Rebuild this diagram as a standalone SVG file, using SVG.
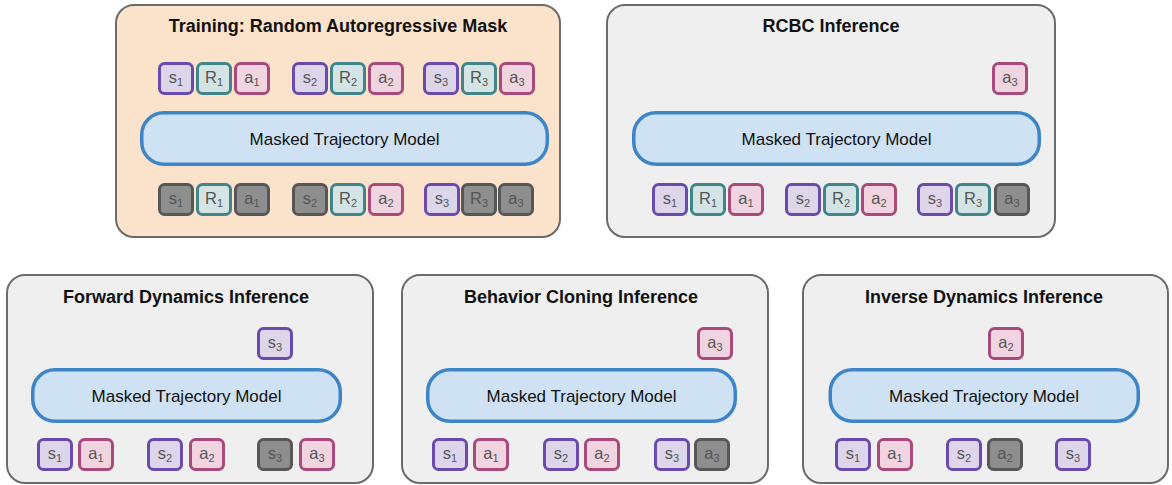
<svg xmlns="http://www.w3.org/2000/svg" width="1172" height="485" viewBox="0 0 1172 485">
<style>
.panel{fill:#efefef;stroke:#6b6b6b;stroke-width:2}
.peach{fill:#fbe3cb}
.title{font-family:"Liberation Sans",Arial,sans-serif;font-weight:bold;font-size:18px;fill:#111;text-anchor:middle}
.mtm{fill:#cfe2f3;stroke:#3d85c6;stroke-width:3.5}
.mtmt{font-family:"Liberation Sans",Arial,sans-serif;font-size:17px;fill:#111;text-anchor:middle}
.tk{stroke-width:3}
.s{fill:#ddd6ea;stroke:#6a4bad}
.r{fill:#d4e4e4;stroke:#3f858a}
.a{fill:#f0d4df;stroke:#a84a7b}
.g{fill:#8e8e8e;stroke:#575757}
.tt{font-family:"Liberation Sans",Arial,sans-serif;font-size:16.5px;fill:#555;text-anchor:middle}
.sub{font-size:11px}
</style>
<defs>
<rect id="box" x="1.5" y="1.5" width="33" height="30" rx="5"/>
</defs>

<g id="panel-training">
<rect class="panel peach" x="116" y="5" width="444" height="232" rx="18"/>
<text class="title" x="338" y="32">Training: Random Autoregressive Mask</text>
<g transform="translate(158,62)"><use href="#box" class="tk s"/><text class="tt" x="18" y="21">s<tspan class="sub" dy="3">1</tspan></text></g>
<g transform="translate(196,62)"><use href="#box" class="tk r"/><text class="tt" x="18" y="21">R<tspan class="sub" dy="3">1</tspan></text></g>
<g transform="translate(234,62)"><use href="#box" class="tk a"/><text class="tt" x="18" y="21">a<tspan class="sub" dy="3">1</tspan></text></g>
<g transform="translate(292,62)"><use href="#box" class="tk s"/><text class="tt" x="18" y="21">s<tspan class="sub" dy="3">2</tspan></text></g>
<g transform="translate(330,62)"><use href="#box" class="tk r"/><text class="tt" x="18" y="21">R<tspan class="sub" dy="3">2</tspan></text></g>
<g transform="translate(368,62)"><use href="#box" class="tk a"/><text class="tt" x="18" y="21">a<tspan class="sub" dy="3">2</tspan></text></g>
<g transform="translate(423,62)"><use href="#box" class="tk s"/><text class="tt" x="18" y="21">s<tspan class="sub" dy="3">3</tspan></text></g>
<g transform="translate(461,62)"><use href="#box" class="tk r"/><text class="tt" x="18" y="21">R<tspan class="sub" dy="3">3</tspan></text></g>
<g transform="translate(499,62)"><use href="#box" class="tk a"/><text class="tt" x="18" y="21">a<tspan class="sub" dy="3">3</tspan></text></g>
<rect class="mtm" x="141.75" y="112.75" width="405.5" height="51.5" rx="22"/>
<text class="mtmt" x="344.5" y="145">Masked Trajectory Model</text>
<g transform="translate(158,183)"><use href="#box" class="tk g"/><text class="tt" x="18" y="21">s<tspan class="sub" dy="3">1</tspan></text></g>
<g transform="translate(196,183)"><use href="#box" class="tk r"/><text class="tt" x="18" y="21">R<tspan class="sub" dy="3">1</tspan></text></g>
<g transform="translate(234,183)"><use href="#box" class="tk g"/><text class="tt" x="18" y="21">a<tspan class="sub" dy="3">1</tspan></text></g>
<g transform="translate(292,183)"><use href="#box" class="tk g"/><text class="tt" x="18" y="21">s<tspan class="sub" dy="3">2</tspan></text></g>
<g transform="translate(330,183)"><use href="#box" class="tk r"/><text class="tt" x="18" y="21">R<tspan class="sub" dy="3">2</tspan></text></g>
<g transform="translate(368,183)"><use href="#box" class="tk a"/><text class="tt" x="18" y="21">a<tspan class="sub" dy="3">2</tspan></text></g>
<g transform="translate(424,183)"><use href="#box" class="tk s"/><text class="tt" x="18" y="21">s<tspan class="sub" dy="3">3</tspan></text></g>
<g transform="translate(461,183)"><use href="#box" class="tk g"/><text class="tt" x="18" y="21">R<tspan class="sub" dy="3">3</tspan></text></g>
<g transform="translate(498,183)"><use href="#box" class="tk g"/><text class="tt" x="18" y="21">a<tspan class="sub" dy="3">3</tspan></text></g>
</g>

<g id="panel-rcbc">
<rect class="panel" x="607" y="5" width="448" height="232" rx="18"/>
<text class="title" x="831" y="32">RCBC Inference</text>
<g transform="translate(992,62)"><use href="#box" class="tk a"/><text class="tt" x="18" y="21">a<tspan class="sub" dy="3">3</tspan></text></g>
<rect class="mtm" x="633.75" y="112.75" width="405.5" height="51.5" rx="22"/>
<text class="mtmt" x="836.5" y="145">Masked Trajectory Model</text>
<g transform="translate(652,183)"><use href="#box" class="tk s"/><text class="tt" x="18" y="21">s<tspan class="sub" dy="3">1</tspan></text></g>
<g transform="translate(690,183)"><use href="#box" class="tk r"/><text class="tt" x="18" y="21">R<tspan class="sub" dy="3">1</tspan></text></g>
<g transform="translate(728,183)"><use href="#box" class="tk a"/><text class="tt" x="18" y="21">a<tspan class="sub" dy="3">1</tspan></text></g>
<g transform="translate(785,183)"><use href="#box" class="tk s"/><text class="tt" x="18" y="21">s<tspan class="sub" dy="3">2</tspan></text></g>
<g transform="translate(823,183)"><use href="#box" class="tk r"/><text class="tt" x="18" y="21">R<tspan class="sub" dy="3">2</tspan></text></g>
<g transform="translate(861,183)"><use href="#box" class="tk a"/><text class="tt" x="18" y="21">a<tspan class="sub" dy="3">2</tspan></text></g>
<g transform="translate(917,183)"><use href="#box" class="tk s"/><text class="tt" x="18" y="21">s<tspan class="sub" dy="3">3</tspan></text></g>
<g transform="translate(955,183)"><use href="#box" class="tk r"/><text class="tt" x="18" y="21">R<tspan class="sub" dy="3">3</tspan></text></g>
<g transform="translate(994,183)"><use href="#box" class="tk g"/><text class="tt" x="18" y="21">a<tspan class="sub" dy="3">3</tspan></text></g>
</g>

<g id="panel-forward">
<rect class="panel" x="7" y="275" width="366" height="208" rx="18"/>
<text class="title" x="186" y="303">Forward Dynamics Inference</text>
<g transform="translate(257,327)"><use href="#box" class="tk s"/><text class="tt" x="18" y="21">s<tspan class="sub" dy="3">3</tspan></text></g>
<rect class="mtm" x="32.75" y="369.75" width="307.5" height="51.5" rx="22"/>
<text class="mtmt" x="186.5" y="402">Masked Trajectory Model</text>
<g transform="translate(37,438)"><use href="#box" class="tk s"/><text class="tt" x="18" y="21">s<tspan class="sub" dy="3">1</tspan></text></g>
<g transform="translate(78,438)"><use href="#box" class="tk a"/><text class="tt" x="18" y="21">a<tspan class="sub" dy="3">1</tspan></text></g>
<g transform="translate(147,438)"><use href="#box" class="tk s"/><text class="tt" x="18" y="21">s<tspan class="sub" dy="3">2</tspan></text></g>
<g transform="translate(189,438)"><use href="#box" class="tk a"/><text class="tt" x="18" y="21">a<tspan class="sub" dy="3">2</tspan></text></g>
<g transform="translate(257,438)"><use href="#box" class="tk g"/><text class="tt" x="18" y="21">s<tspan class="sub" dy="3">3</tspan></text></g>
<g transform="translate(299,438)"><use href="#box" class="tk a"/><text class="tt" x="18" y="21">a<tspan class="sub" dy="3">3</tspan></text></g>
</g>

<g id="panel-bc">
<rect class="panel" x="402" y="275" width="366" height="208" rx="18"/>
<text class="title" x="581" y="303">Behavior Cloning Inference</text>
<g transform="translate(697,327)"><use href="#box" class="tk a"/><text class="tt" x="18" y="21">a<tspan class="sub" dy="3">3</tspan></text></g>
<rect class="mtm" x="427.75" y="369.75" width="307.5" height="51.5" rx="22"/>
<text class="mtmt" x="581.5" y="402">Masked Trajectory Model</text>
<g transform="translate(432,438)"><use href="#box" class="tk s"/><text class="tt" x="18" y="21">s<tspan class="sub" dy="3">1</tspan></text></g>
<g transform="translate(473,438)"><use href="#box" class="tk a"/><text class="tt" x="18" y="21">a<tspan class="sub" dy="3">1</tspan></text></g>
<g transform="translate(543,438)"><use href="#box" class="tk s"/><text class="tt" x="18" y="21">s<tspan class="sub" dy="3">2</tspan></text></g>
<g transform="translate(584,438)"><use href="#box" class="tk a"/><text class="tt" x="18" y="21">a<tspan class="sub" dy="3">2</tspan></text></g>
<g transform="translate(654,438)"><use href="#box" class="tk s"/><text class="tt" x="18" y="21">s<tspan class="sub" dy="3">3</tspan></text></g>
<g transform="translate(694,438)"><use href="#box" class="tk g"/><text class="tt" x="18" y="21">a<tspan class="sub" dy="3">3</tspan></text></g>
</g>

<g id="panel-inverse">
<rect class="panel" x="803" y="275" width="365" height="208" rx="18"/>
<text class="title" x="984" y="303">Inverse Dynamics Inference</text>
<g transform="translate(988,327)"><use href="#box" class="tk a"/><text class="tt" x="18" y="21">a<tspan class="sub" dy="3">2</tspan></text></g>
<rect class="mtm" x="830.25" y="369.75" width="308" height="51.5" rx="22"/>
<text class="mtmt" x="984" y="402">Masked Trajectory Model</text>
<g transform="translate(835,438)"><use href="#box" class="tk s"/><text class="tt" x="18" y="21">s<tspan class="sub" dy="3">1</tspan></text></g>
<g transform="translate(877,438)"><use href="#box" class="tk a"/><text class="tt" x="18" y="21">a<tspan class="sub" dy="3">1</tspan></text></g>
<g transform="translate(946,438)"><use href="#box" class="tk s"/><text class="tt" x="18" y="21">s<tspan class="sub" dy="3">2</tspan></text></g>
<g transform="translate(987,438)"><use href="#box" class="tk g"/><text class="tt" x="18" y="21">a<tspan class="sub" dy="3">2</tspan></text></g>
<g transform="translate(1055,438)"><use href="#box" class="tk s"/><text class="tt" x="18" y="21">s<tspan class="sub" dy="3">3</tspan></text></g>
</g>

<g id="connectors"></g>
</svg>
